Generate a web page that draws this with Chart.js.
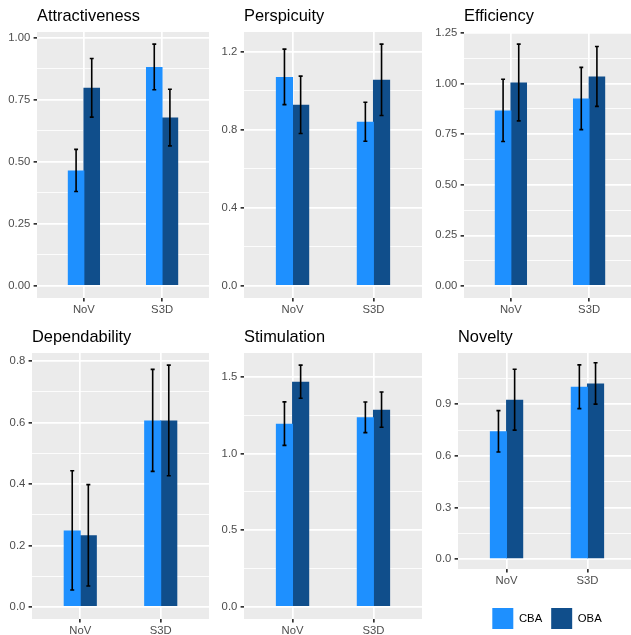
<!DOCTYPE html>
<html>
<head>
<meta charset="utf-8">
<script src="https://cdn.jsdelivr.net/npm/chart.js@4/dist/chart.umd.min.js"></script>
<style>
  html, body { margin: 0; padding: 0; background: #ffffff; overflow: hidden; width: 631px; height: 635px; }
  canvas { position: absolute; }
</style>
</head>
<body>
<script>
// ---- data -------------------------------------------------------------
const categories = ['NoV', 'S3D'];
const groupNames = ['CBA', 'OBA'];

// mean scale scores (NoV, S3D) and confidence half-widths
const attractivenessCBA = [0.465, 0.882];
const attractivenessOBA = [0.798, 0.678];
const attractivenessCBAErr = [0.085, 0.092];
const attractivenessOBAErr = [0.118, 0.114];

const perspicuityCBA = [1.071, 0.841];
const perspicuityOBA = [0.928, 1.056];
const perspicuityCBAErr = [0.142, 0.100];
const perspicuityOBAErr = [0.147, 0.183];

const efficiencyCBA = [0.868, 0.927];
const efficiencyOBA = [1.006, 1.036];
const efficiencyCBAErr = [0.154, 0.154];
const efficiencyOBAErr = [0.190, 0.148];

const dependabilityCBA = [0.249, 0.607];
const dependabilityOBA = [0.233, 0.607];
const dependabilityCBAErr = [0.194, 0.166];
const dependabilityOBAErr = [0.165, 0.180];

const stimulationCBA = [1.196, 1.237];
const stimulationOBA = [1.470, 1.287];
const stimulationCBAErr = [0.142, 0.100];
const stimulationOBAErr = [0.108, 0.115];

const noveltyCBA = [0.743, 1.002];
const noveltyOBA = [0.927, 1.021];
const noveltyCBAErr = [0.120, 0.127];
const noveltyOBAErr = [0.177, 0.120];

// y-axis tick labels per panel
const attractivenessTicks = ['0.00', '0.25', '0.50', '0.75', '1.00'];
const perspicuityTicks = ['0.0', '0.4', '0.8', '1.2'];
const efficiencyTicks = ['0.00', '0.25', '0.50', '0.75', '1.00', '1.25'];
const dependabilityTicks = ['0.0', '0.2', '0.4', '0.6', '0.8'];
const stimulationTicks = ['0.0', '0.5', '1.0', '1.5'];
const noveltyTicks = ['0.0', '0.3', '0.6', '0.9'];

// ---- styling ----------------------------------------------------------
const groupColors = ['#1E90FF', '#104E8B'];
const FONT = "'Liberation Sans', Arial, Helvetica, sans-serif";
Chart.defaults.font.family = FONT;

// panel rectangles on the page: left, top, right, bottom
const panels = [
  { title: 'Attractiveness', cba: attractivenessCBA, oba: attractivenessOBA, cbaErr: attractivenessCBAErr, obaErr: attractivenessOBAErr, ticks: attractivenessTicks, box: [37, 32, 209, 298] },
  { title: 'Perspicuity',    cba: perspicuityCBA,    oba: perspicuityOBA,    cbaErr: perspicuityCBAErr,    obaErr: perspicuityOBAErr,    ticks: perspicuityTicks,    box: [244, 32, 422, 298] },
  { title: 'Efficiency',     cba: efficiencyCBA,     oba: efficiencyOBA,     cbaErr: efficiencyCBAErr,     obaErr: efficiencyOBAErr,     ticks: efficiencyTicks,     box: [464, 32, 636, 298] },
  { title: 'Dependability',  cba: dependabilityCBA,  oba: dependabilityOBA,  cbaErr: dependabilityCBAErr,  obaErr: dependabilityOBAErr,  ticks: dependabilityTicks,  box: [32, 353, 209, 619] },
  { title: 'Stimulation',    cba: stimulationCBA,    oba: stimulationOBA,    cbaErr: stimulationCBAErr,    obaErr: stimulationOBAErr,    ticks: stimulationTicks,    box: [244, 353, 422, 619] },
  { title: 'Novelty',        cba: noveltyCBA,        oba: noveltyOBA,        cbaErr: noveltyCBAErr,        obaErr: noveltyOBAErr,        ticks: noveltyTicks,        box: [458, 353, 636, 569], legend: true }
];

// grey panel background
const panelBackground = {
  id: 'panelBackground',
  beforeDraw(chart) {
    const { ctx, chartArea: a } = chart;
    ctx.save();
    ctx.fillStyle = '#EBEBEB';
    ctx.fillRect(a.left, a.top, a.right - a.left, a.bottom - a.top);
    ctx.restore();
  }
};

// mean +/- half-width error bars with small caps
const errorBars = {
  id: 'errorBars',
  afterDatasetsDraw(chart) {
    const { ctx, scales: { x, y } } = chart;
    const half = Math.abs(x.getPixelForValue(1.025) - x.getPixelForValue(1));
    ctx.save();
    ctx.strokeStyle = '#000000';
    ctx.lineWidth = 1.6;
    chart.data.datasets.forEach((ds, i) => {
      const meta = chart.getDatasetMeta(i);
      meta.data.forEach((bar, j) => {
        const m = ds.data[j].y, e = ds.errors[j];
        const yTop = y.getPixelForValue(m + e);
        const yBot = y.getPixelForValue(m - e);
        ctx.beginPath();
        ctx.moveTo(bar.x, yTop); ctx.lineTo(bar.x, yBot);
        ctx.moveTo(bar.x - half, yTop); ctx.lineTo(bar.x + half, yTop);
        ctx.moveTo(bar.x - half, yBot); ctx.lineTo(bar.x + half, yBot);
        ctx.stroke();
      });
    });
    ctx.restore();
  }
};

const isMinor = ctx => ctx.tick && ctx.tick.minor;
const LEGEND_PAD = 9, LEGEND_BOX = 21;

function makePanel(p) {
  const [l, t, r, b] = p.box;
  const yAxisW = 30, titleH = 32;
  const xAxisH = p.legend ? 30 : 24;
  // horizontal legend height in Chart.js: box + padding + 10
  const legendH = p.legend ? LEGEND_BOX + LEGEND_PAD + 10 : 0;
  const x0 = l - yAxisW, y0 = t - titleH;
  const w = r - x0, h = b + xAxisH + legendH - y0;

  const cv = document.createElement('canvas');
  cv.width = w; cv.height = h;
  cv.style.left = x0 + 'px'; cv.style.top = y0 + 'px';
  cv.style.width = w + 'px'; cv.style.height = h + 'px';
  document.body.appendChild(cv);

  // y range: data extent (incl. error bars) with 5% expansion
  const top = Math.max(...p.cba.map((v, i) => v + p.cbaErr[i]), ...p.oba.map((v, i) => v + p.obaErr[i]));
  const yMin = -0.05 * top, yMax = top * 1.05;

  // major ticks from labels, minor ticks halfway between
  const majors = p.ticks.map(Number);
  const step = majors[1] - majors[0];
  const yTicks = majors.map(v => ({ value: v, minor: false }));
  majors.forEach(v => {
    const mid = v + step / 2;
    if (mid <= yMax) yTicks.push({ value: mid, minor: true });
  });
  yTicks.sort((a, c) => a.value - c.value);

  const series = [p.cba, p.oba];
  const errs = [p.cbaErr, p.obaErr];

  new Chart(cv, {
    type: 'bar',
    data: {
      datasets: groupNames.map((name, k) => ({
        label: name,
        data: categories.map((c, i) => ({ x: i + 1, y: series[k][i] })),
        errors: errs[k],
        backgroundColor: groupColors[k],
        borderWidth: 0,
        categoryPercentage: 0.4,
        barPercentage: 1.06
      }))
    },
    options: {
      responsive: false,
      animation: false,
      devicePixelRatio: 1,
      events: [],
      layout: { padding: 0 },
      plugins: {
        tooltip: { enabled: false },
        title: {
          display: true,
          text: p.title,
          align: 'start',
          fullSize: false,
          color: '#000000',
          font: { size: 16.4, weight: 'normal', lineHeight: 1.2 },
          padding: { top: 6.2, bottom: 32 - 6.2 - 16.4 * 1.2 }
        },
        legend: {
          display: !!p.legend,
          position: 'bottom',
          fullSize: false,
          align: 'center',
          labels: {
            boxWidth: LEGEND_BOX,
            boxHeight: LEGEND_BOX,
            padding: LEGEND_PAD,
            color: '#000000',
            font: { size: 11.3 }
          }
        }
      },
      scales: {
        x: {
          type: 'linear',
          min: 0.4,
          max: 2.6,
          offset: false,
          bounds: 'data',
          afterFit(s) { s.height = xAxisH; },
          afterBuildTicks(s) { s.ticks = categories.map((c, i) => ({ value: i + 1 })); },
          grid: {
            offset: false,
            color: '#FFFFFF',
            lineWidth: 1.7,
            tickColor: '#333333',
            tickLength: 3.4,
            tickWidth: 1.7
          },
          border: { display: false },
          ticks: {
            autoSkip: false,
            maxRotation: 0,
            padding: 1.5,
            color: '#4D4D4D',
            font: { size: 11.3 },
            callback: v => categories[Math.round(v) - 1]
          }
        },
        y: {
          type: 'linear',
          min: yMin,
          max: yMax,
          bounds: 'data',
          afterFit(s) { s.width = yAxisW; },
          afterBuildTicks(s) { s.ticks = yTicks.map(tk => ({ value: tk.value, minor: tk.minor })); },
          grid: {
            color: '#FFFFFF',
            lineWidth: ctx => isMinor(ctx) ? 0.85 : 1.7,
            tickColor: ctx => isMinor(ctx) ? 'rgba(0,0,0,0)' : '#333333',
            tickLength: 3.4,
            tickWidth: 1.7
          },
          border: { display: false },
          ticks: {
            autoSkip: false,
            padding: 3.3,
            color: '#4D4D4D',
            font: { size: 11.3 },
            callback: (v) => {
              const idx = majors.findIndex(m => Math.abs(m - v) < 1e-9);
              return idx >= 0 ? p.ticks[idx] : '';
            }
          }
        }
      }
    },
    plugins: [panelBackground, errorBars]
  });
}

panels.forEach(makePanel);
</script>
</body>
</html>
